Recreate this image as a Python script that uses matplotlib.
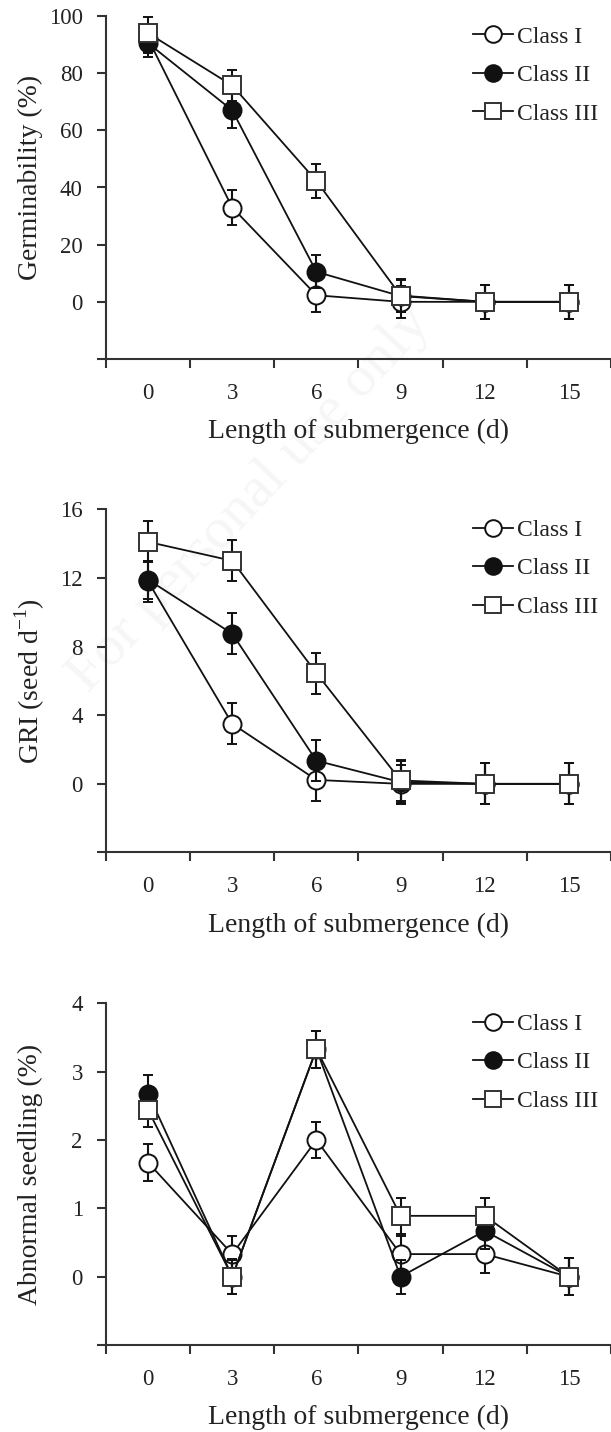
import numpy as np
import matplotlib
matplotlib.use("Agg")
import matplotlib.pyplot as plt
from matplotlib.lines import Line2D
from matplotlib.ticker import FixedLocator, NullFormatter, FixedFormatter

plt.rcParams['font.family'] = ['Liberation Serif', 'DejaVu Serif']

days = [0, 3, 6, 9, 12, 15]
classes = ['Class I', 'Class II', 'Class III']

# germinability (%)
germ_c1 = [92.0, 33.0, 2.3, 0.0, 0.0, 0.0]
germ_c2 = [90.5, 67.0, 10.5, 2.0, 0.0, 0.0]
germ_c3 = [94.0, 75.7, 42.3, 2.2, 0.0, 0.0]
germ_e1 = [5.0, 6.0, 5.8, 5.6, 6.0, 6.0]
germ_e2 = [5.0, 6.2, 5.8, 5.6, 6.0, 6.0]
germ_e3 = [5.8, 5.5, 5.8, 5.7, 6.0, 6.0]

# GRI (seed d-1)
gri_c1 = [11.8, 3.5, 0.23, 0.0, 0.0, 0.0]
gri_c2 = [11.9, 8.75, 1.35, 0.1, 0.0, 0.0]
gri_c3 = [14.1, 13.0, 6.45, 0.2, 0.0, 0.0]
gri_e1 = [1.2, 1.2, 1.2, 1.1, 1.2, 1.2]
gri_e2 = [1.1, 1.2, 1.2, 1.25, 1.2, 1.2]
gri_e3 = [1.2, 1.2, 1.2, 1.2, 1.2, 1.2]

# abnormal seedling (%)
abn_c1 = [1.67, 0.33, 2.0, 0.33, 0.33, 0.0]
abn_c2 = [2.68, 0.0, 3.33, 0.0, 0.67, 0.0]
abn_c3 = [2.44, 0.0, 3.33, 0.89, 0.89, 0.0]
abn_e1 = [0.27, 0.27, 0.26, 0.27, 0.27, 0.27]
abn_e2 = [0.27, 0.26, 0.27, 0.25, 0.27, 0.27]
abn_e3 = [0.25, 0.25, 0.27, 0.26, 0.26, 0.27]

panels = [
    dict(data=[germ_c1, germ_c2, germ_c3], err=[germ_e1, germ_e2, germ_e3],
         ylim=(-20, 100), yticks=[-20, 0, 20, 40, 60, 80, 100],
         ylabel='Germinability (%)', ylabel_y=0.53, top=16, bottom=359),
    dict(data=[gri_c1, gri_c2, gri_c3], err=[gri_e1, gri_e2, gri_e3],
         ylim=(-4, 16), yticks=[-4, 0, 4, 8, 12, 16],
         ylabel='GRI (seed d$^{\\mathregular{-1}}$)', ylabel_y=0.5, top=509.3, bottom=852.5),
    dict(data=[abn_c1, abn_c2, abn_c3], err=[abn_e1, abn_e2, abn_e3],
         ylim=(-1, 4), yticks=[-1, 0, 1, 2, 3, 4],
         ylabel='Abnormal seedling (%)', ylabel_y=0.5, top=1003.3, bottom=1345),
]

W, H = 611, 1432
fig = plt.figure(figsize=(W / 100, H / 100), dpi=100)

# faint watermark behind everything
fig.text(250 / W, 1 - 500 / H, 'For personal use only', fontsize=42, color='#f6f6f6',
         rotation=47, ha='center', va='center', zorder=-1)

styles = [
    dict(marker='o', mfc='white', mec='#111111'),
    dict(marker='o', mfc='#111111', mec='#111111'),
    dict(marker='s', mfc='white', mec='#333333'),
]

xpos = np.arange(len(days)) + 0.5
spine_c = '#333333'
text_c = '#222222'

for p in panels:
    ax = fig.add_axes([106 / W, 1 - p['bottom'] / H, 505 / W, (p['bottom'] - p['top']) / H])
    ax.patch.set_visible(False)
    for i in range(3):
        ax.errorbar(xpos, p['data'][i], yerr=p['err'][i], color='#111111', lw=1.3,
                    elinewidth=1.5, capsize=3.8, capthick=1.5, ms=13, mew=1.4,
                    zorder=2 + i, **styles[i])
    ax.set_xlim(0, 6)
    ax.set_ylim(*p['ylim'])

    ax.spines['top'].set_visible(False)
    ax.spines['right'].set_visible(False)
    for s in ['left', 'bottom']:
        ax.spines[s].set_color(spine_c)
        ax.spines[s].set_linewidth(1.5)

    ax.xaxis.set_major_locator(FixedLocator(np.arange(7)))
    ax.xaxis.set_major_formatter(NullFormatter())
    ax.xaxis.set_minor_locator(FixedLocator(xpos))
    ax.xaxis.set_minor_formatter(FixedFormatter([str(d) for d in days]))
    ax.tick_params(axis='x', which='major', direction='out', length=6.7, width=1.5, color=spine_c)
    ax.tick_params(axis='x', which='minor', length=0, pad=17, labelsize=16.5, labelcolor=text_c)

    ax.set_yticks(p['yticks'])
    ax.set_yticklabels([''] + [str(t) for t in p['yticks'][1:]])
    ax.tick_params(axis='y', direction='out', length=6.7, width=1.5, color=spine_c,
                   pad=10, labelsize=16.5, labelcolor=text_c)

    ax.set_xlabel('Length of submergence (d)', fontsize=20, color=text_c, va='center')
    ax.xaxis.set_label_coords(0.5, -72.5 / (p['bottom'] - p['top']))
    ax.set_ylabel(p['ylabel'], fontsize=20, color=text_c, va='center')
    ax.yaxis.set_label_coords(-76 / 505, p['ylabel_y'])

    handles = [Line2D([], [], color='#111111', lw=1.3, ms=12, mew=1.4, **st) for st in styles]
    leg = ax.legend(handles, classes, loc='upper left',
                    bbox_to_anchor=(367 / 505, 1 - 10 / (p['bottom'] - p['top'])),
                    frameon=False, fontsize=17, handlelength=1.7, handletextpad=0.17,
                    labelspacing=0.72, borderpad=0, borderaxespad=0)
    for t in leg.get_texts():
        t.set_color(text_c)

fig.savefig('out.png', dpi=100)
